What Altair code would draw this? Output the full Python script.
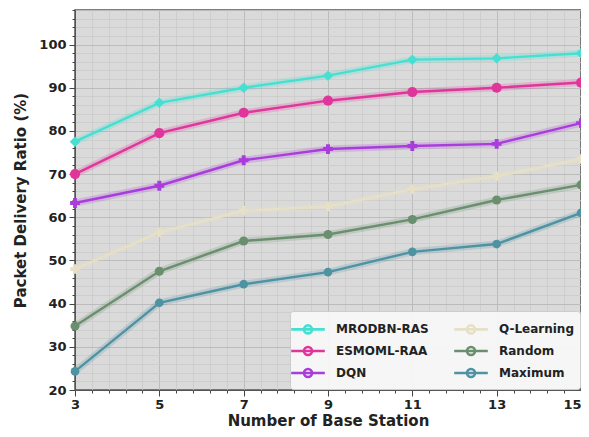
import altair as alt
import pandas as pd

stations = [3, 5, 7, 9, 11, 13, 15]
mrodbn = [77.5, 86.5, 90.0, 92.8, 96.5, 96.8, 98.0]
esmoml = [70.0, 79.5, 84.2, 87.0, 89.0, 90.0, 91.2]
dqn = [63.3, 67.3, 73.2, 75.8, 76.5, 77.0, 81.8]
qlearn = [48.0, 56.5, 61.5, 62.5, 66.5, 69.5, 73.5]
random_ = [34.8, 47.5, 54.5, 56.0, 59.5, 64.0, 67.5]
maximum = [24.3, 40.2, 44.5, 47.3, 52.0, 53.8, 61.0]

series_names = ["MRODBN-RAS", "ESMOML-RAA", "DQN", "Q-Learning", "Random", "Maximum"]
series_vals = [mrodbn, esmoml, dqn, qlearn, random_, maximum]
colors = ["#45e0d2", "#e0359b", "#a83ddc", "#e6e0c6", "#6a8f6e", "#4f93a3"]
shapes = ["diamond", "circle", "cross", "cross", "circle", "circle"]
sizes = [110, 75, 30, 30, 60, 60]

rows = []
for name, vals in zip(series_names, series_vals):
    for s, v in zip(stations, vals):
        rows.append({"stations": s, "pdr": v, "method": name})
df = pd.DataFrame(rows)

x_ticks = [round(3 + 0.4 * i, 1) for i in range(31)]
y_ticks = list(range(20, 109, 2))

legend = alt.Legend(
    title=None, orient="bottom-right", columns=2, offset=1,
    symbolType="M-1.6,0H1.6M0.38,0A0.38,0.38 0 1,1 -0.38,0A0.38,0.38 0 1,1 0.38,0Z",
    symbolSize=441, symbolStrokeWidth=2.6, symbolOpacity=1,
    labelFont="DejaVu Sans", labelFontWeight="bold", labelFontSize=12,
    labelColor="#222222", labelOffset=16, columnPadding=20, rowPadding=0,
    padding=6,
    fillColor="rgba(248,248,248,0.92)", strokeColor="#cccccc", cornerRadius=3,
)

cscale = alt.Scale(domain=series_names, range=colors)
color_leg = alt.Color("method:N", scale=cscale, legend=legend)
color_nol = alt.Color("method:N", scale=cscale, legend=None)

x = alt.X("stations:Q", scale=alt.Scale(domain=[3, 15], nice=False),
          title="Number of Base Station",
          axis=alt.Axis(values=x_ticks, labelFlush=False,
                        labelExpr="(datum.value % 2 == 1) ? format(datum.value, 'd') : ''",
                        labelAlign={"condition": {"test": "datum.value >= 15", "value": "right"}, "value": "center"},
                        tickSize={"condition": {"test": "datum.value % 2 == 1", "value": 6}, "value": 3},
                        gridColor={"condition": {"test": "datum.value % 2 == 1", "value": "#b4b4b4"}, "value": "#cacaca"},
                        labelOverlap=False))
y = alt.Y("pdr:Q", scale=alt.Scale(domain=[20, 108], nice=False, zero=False),
          title="Packet Delivery Ratio (%)",
          axis=alt.Axis(values=y_ticks, labelFlush=False,
                        labelExpr="(datum.value % 10 == 0) ? format(datum.value, 'd') : ''",
                        tickSize={"condition": {"test": "datum.value % 10 == 0", "value": 6}, "value": 3},
                        gridColor={"condition": {"test": "datum.value % 10 == 0", "value": "#b4b4b4"}, "value": "#cacaca"},
                        labelOverlap=False))

base = alt.Chart(df)
halo = base.mark_line(strokeWidth=7, opacity=0.22).encode(x=x, y=y, color=color_nol, detail="method:N")
lines = base.mark_line(strokeWidth=2.4).encode(x=x, y=y, color=color_leg, detail="method:N")
points = base.mark_point(filled=True, opacity=1).encode(
    x=x, y=y, color=color_nol,
    shape=alt.Shape("method:N", scale=alt.Scale(domain=series_names, range=shapes), legend=None),
    size=alt.Size("method:N", scale=alt.Scale(domain=series_names, range=sizes), legend=None),
)

chart = alt.layer(halo, points, lines).resolve_scale(
    color="independent"
).properties(
    width=506, height=380,
    autosize=alt.AutoSizeParams(type="none"),
    padding={"left": 67, "top": 2, "right": 0, "bottom": 38},
).configure_view(
    fill="#dadada", stroke="#555555", strokeWidth=1.5
).configure_axis(
    labelFont="DejaVu Sans", labelFontWeight="bold", labelFontSize=13, labelColor="#222222",
    titleFont="DejaVu Sans", titleFontWeight="bold", titleFontSize=15, titleColor="#222222",
    tickColor="#444444", domainColor="#555555", gridWidth=0.8,
).configure_axisX(titlePadding=2, labelPadding=2).configure_axisY(titlePadding=10, labelPadding=3)

chart.save("out.html", embed_options={"renderer": "svg", "actions": False})
